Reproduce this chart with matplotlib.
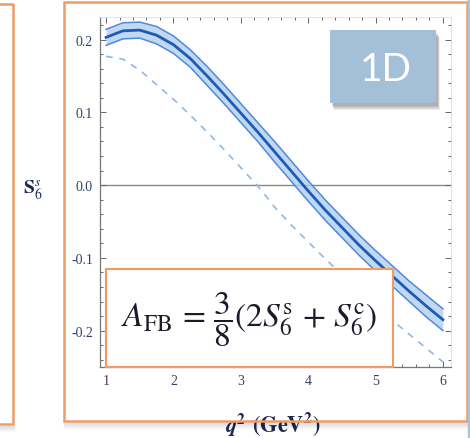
import numpy as np
import matplotlib.pyplot as plt
from matplotlib.patches import Rectangle
from matplotlib.ticker import MultipleLocator

# q^2 grid (GeV^2)
q2 = [1.0, 1.25, 1.5, 1.75, 2.0, 2.25, 2.5, 2.75, 3.0, 3.25, 3.5,
      3.75, 4.0, 4.25, 4.5, 4.75, 5.0, 5.25, 5.5, 5.75, 6.0]

# S6s central value and band edges
s6_central = [0.203, 0.212, 0.213, 0.206, 0.193, 0.174, 0.150, 0.125, 0.099, 0.073, 0.046,
              0.019, -0.008, -0.034, -0.058, -0.082, -0.104, -0.125, -0.146, -0.166, -0.185]
s6_upper = [0.214, 0.223, 0.224, 0.218, 0.205, 0.186, 0.163, 0.138, 0.112, 0.086, 0.060,
            0.033, 0.006, -0.020, -0.044, -0.068, -0.090, -0.111, -0.132, -0.151, -0.170]
s6_lower = [0.192, 0.201, 0.202, 0.194, 0.181, 0.162, 0.137, 0.112, 0.086, 0.060, 0.032,
            0.005, -0.022, -0.048, -0.072, -0.096, -0.118, -0.139, -0.160, -0.181, -0.200]

# reference curve (dashed)
s6_ref = [0.177, 0.173, 0.158, 0.138, 0.118, 0.096, 0.073, 0.049, 0.024, -0.001, -0.030,
          -0.055, -0.078, -0.101, -0.123, -0.145, -0.166, -0.186, -0.205, -0.224, -0.243]

y_ticks = [0.2, 0.1, 0.0, -0.1, -0.2]
y_tick_labels = ["0.2", "0.1", "0.0", "-0.1", "-0.2"]
x_ticks = [1, 2, 3, 4, 5, 6]

W, H = 470, 439
ORANGE = "#ee9b68"
TICK_COLOR = "#34406a"

plt.rcParams["mathtext.fontset"] = "stix"

fig = plt.figure(figsize=(W / 100, H / 100), dpi=100)
fig.patch.set_facecolor("white")


def px_axes(x0, y0, x1, y1):
    return [x0 / W, 1 - y1 / H, (x1 - x0) / W, (y1 - y0) / H]


ax = fig.add_axes(px_axes(100, 18, 451, 368))
ax.set_xlim(0.91, 6.12)
ax.set_ylim(-0.25, 0.231)

ax.fill_between(q2, s6_lower, s6_upper, color="#b3cfee", alpha=0.8, lw=0, zorder=2)
ax.plot(q2, s6_upper, color="#4f8ad6", lw=1.1, zorder=3)
ax.plot(q2, s6_lower, color="#4f8ad6", lw=1.1, zorder=3)
ax.plot(q2, s6_central, color="#1a5cb8", lw=2.0, zorder=4)
ax.plot(q2, s6_ref, color="#8fb8e6", lw=1.2, ls=(0, (4, 4)), zorder=3)
ax.axhline(0.0, color="#888888", lw=1.0, zorder=1)

for side in ["left", "bottom"]:
    ax.spines[side].set_color("#777777")
    ax.spines[side].set_linewidth(0.9)
for side in ["top", "right"]:
    ax.spines[side].set_color("#dddddd")
    ax.spines[side].set_linewidth(0.6)

ax.set_yticks(y_ticks)
ax.set_yticklabels(y_tick_labels)
ax.set_xticks(x_ticks)
ax.yaxis.set_minor_locator(MultipleLocator(0.02))
ax.xaxis.set_minor_locator(MultipleLocator(0.2))
ax.tick_params(which="both", direction="in", top=True, right=True,
               color="#666666", width=0.7)
ax.tick_params(which="major", length=4.5)
ax.tick_params(which="minor", length=2.5)
ax.tick_params(axis="both", labelsize=10, labelcolor=TICK_COLOR, pad=5)
for lab in ax.get_xticklabels() + ax.get_yticklabels():
    lab.set_fontfamily("Liberation Serif")

# overlay in pixel coordinates for the frames, boxes and labels
ov = fig.add_axes([0, 0, 1, 1], zorder=5)
ov.set_xlim(0, W)
ov.set_ylim(H, 0)
ov.axis("off")
ov.patch.set_alpha(0)

# soft shadows under the frames
for i in range(6):
    a = 0.10 * (1 - i / 6)
    ov.plot([64, 467], [424 + i, 424 + i], color="black", alpha=a, lw=1)
    ov.plot([0, 14], [427 + i, 427 + i], color="black", alpha=a, lw=1)

ov.add_patch(Rectangle((64, 3), 403, 419, fill=False, ec=ORANGE, lw=1.8))
ov.plot([0, 13, 13, 0], [5, 5, 425, 425], color=ORANGE, lw=1.8)
ov.plot([469, 469], [0, H], color="#a9c4dd", lw=2.5)

# label box with shadow
for i in range(5):
    ov.add_patch(Rectangle((332 + i * 0.4, 34 + i), 106, 73, fc="black",
                           alpha=0.07, lw=0))
ov.add_patch(Rectangle((330, 31), 106, 73, fc="#a4c0d9", ec="none"))
ov.text(386, 70, "1D", color="white", fontsize=28, fontfamily="Lato",
        fontweight="normal", ha="center", va="center")

# formula box
ov.add_patch(Rectangle((106, 270), 287, 98, fc="white", ec=ORANGE, lw=1.5))
ov.text(249, 320,
        r"$A_{\rm FB}\,=\,\dfrac{3}{8}(2S_6^{\rm s}\,+\,S_6^{\rm c})$",
        fontsize=24, ha="center", va="center", color="#1a1a2a")

# axis labels
ov.text(33, 190, r"$\mathbf{S}_6^s$", fontsize=14, ha="center", va="center",
        color="#1a2a55")
ov.text(273, 424, r"$\boldsymbol{q}^{\mathbf{2}}$ $\mathbf{(GeV^2)}$", fontsize=16,
        ha="center", va="center", color="#1a2a55", zorder=-1)

fig.savefig("out.png", dpi=100)
